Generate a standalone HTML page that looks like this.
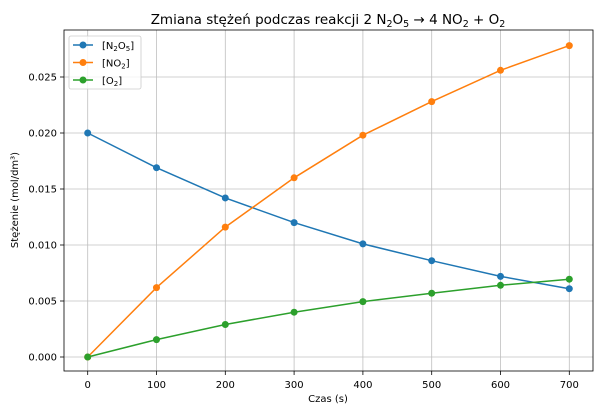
<!DOCTYPE html>
<html><head><meta charset="utf-8"><style>body{margin:0;background:#fff}svg{display:block}</style></head><body>
<svg width="605" height="416" xmlns="http://www.w3.org/2000/svg" font-family="DejaVu Sans, Liberation Sans, sans-serif">
<rect width="605" height="416" fill="#fff"/>
<text x="328" y="24" font-size="13.5" text-anchor="middle">Zmiana stężeń podczas reakcji 2 N<tspan font-size="9.5" dy="3">2</tspan><tspan dy="-3">O</tspan><tspan font-size="9.5" dy="3">5</tspan><tspan dy="-3"> → 4 NO</tspan><tspan font-size="9.5" dy="3">2</tspan><tspan dy="-3"> + O</tspan><tspan font-size="9.5" dy="3">2</tspan></text>
<g stroke="#b0b0b0" stroke-width="0.8" opacity="0.8">
<line x1="87.7" y1="30" x2="87.7" y2="371"/><line x1="156.5" y1="30" x2="156.5" y2="371"/><line x1="225.3" y1="30" x2="225.3" y2="371"/><line x1="294.1" y1="30" x2="294.1" y2="371"/><line x1="362.9" y1="30" x2="362.9" y2="371"/><line x1="431.7" y1="30" x2="431.7" y2="371"/><line x1="500.5" y1="30" x2="500.5" y2="371"/><line x1="569.3" y1="30" x2="569.3" y2="371"/>
<line x1="64" y1="357" x2="593" y2="357"/><line x1="64" y1="301" x2="593" y2="301"/><line x1="64" y1="245" x2="593" y2="245"/><line x1="64" y1="189" x2="593" y2="189"/><line x1="64" y1="133" x2="593" y2="133"/><line x1="64" y1="77" x2="593" y2="77"/>
</g>
<rect x="64" y="30" width="529" height="341" fill="none" stroke="#000" stroke-width="0.8"/>
<g stroke="#000" stroke-width="0.8">
<line x1="87.7" y1="371" x2="87.7" y2="375"/><line x1="156.5" y1="371" x2="156.5" y2="375"/><line x1="225.3" y1="371" x2="225.3" y2="375"/><line x1="294.1" y1="371" x2="294.1" y2="375"/><line x1="362.9" y1="371" x2="362.9" y2="375"/><line x1="431.7" y1="371" x2="431.7" y2="375"/><line x1="500.5" y1="371" x2="500.5" y2="375"/><line x1="569.3" y1="371" x2="569.3" y2="375"/>
<line x1="60" y1="357" x2="64" y2="357"/><line x1="60" y1="301" x2="64" y2="301"/><line x1="60" y1="245" x2="64" y2="245"/><line x1="60" y1="189" x2="64" y2="189"/><line x1="60" y1="133" x2="64" y2="133"/><line x1="60" y1="77" x2="64" y2="77"/>
</g>
<g font-size="10" text-anchor="middle">
<text x="87.7" y="388">0</text><text x="156.5" y="388">100</text><text x="225.3" y="388">200</text><text x="294.1" y="388">300</text><text x="362.9" y="388">400</text><text x="431.7" y="388">500</text><text x="500.5" y="388">600</text><text x="569.3" y="388">700</text>
<text x="328" y="402">Czas (s)</text>
</g>
<g font-size="10" text-anchor="end">
<text x="57" y="360.5">0.000</text><text x="57" y="304.5">0.005</text><text x="57" y="248.5">0.010</text><text x="57" y="192.5">0.015</text><text x="57" y="136.5">0.020</text><text x="57" y="80.5">0.025</text>
</g>
<text transform="translate(18,200) rotate(-90)" font-size="10" text-anchor="middle">Stężenie (mol/dm³)</text>
<g stroke-width="1.5" fill="none">
<polyline stroke="#1f77b4" points="87.7,133 156.5,167.7 225.3,197.96 294.1,222.6 362.9,243.9 431.7,260.7 500.5,276.4 569.3,288.7"/>
<polyline stroke="#ff7f0e" points="87.7,357 156.5,287.6 225.3,227.1 294.1,177.8 362.9,135.2 431.7,101.6 500.5,70.3 569.3,45.6"/>
<polyline stroke="#2ca02c" points="87.7,357 156.5,339.6 225.3,324.5 294.1,312.2 362.9,301.6 431.7,293.2 500.5,285.3 569.3,279.2"/>
</g>
<g fill="#1f77b4"><circle cx="87.7" cy="133" r="3.5"/><circle cx="156.5" cy="167.7" r="3.5"/><circle cx="225.3" cy="197.96" r="3.5"/><circle cx="294.1" cy="222.6" r="3.5"/><circle cx="362.9" cy="243.9" r="3.5"/><circle cx="431.7" cy="260.7" r="3.5"/><circle cx="500.5" cy="276.4" r="3.5"/><circle cx="569.3" cy="288.7" r="3.5"/></g>
<g fill="#ff7f0e"><circle cx="87.7" cy="357" r="3.5"/><circle cx="156.5" cy="287.6" r="3.5"/><circle cx="225.3" cy="227.1" r="3.5"/><circle cx="294.1" cy="177.8" r="3.5"/><circle cx="362.9" cy="135.2" r="3.5"/><circle cx="431.7" cy="101.6" r="3.5"/><circle cx="500.5" cy="70.3" r="3.5"/><circle cx="569.3" cy="45.6" r="3.5"/></g>
<g fill="#2ca02c"><circle cx="87.7" cy="357" r="3.5"/><circle cx="156.5" cy="339.6" r="3.5"/><circle cx="225.3" cy="324.5" r="3.5"/><circle cx="294.1" cy="312.2" r="3.5"/><circle cx="362.9" cy="301.6" r="3.5"/><circle cx="431.7" cy="293.2" r="3.5"/><circle cx="500.5" cy="285.3" r="3.5"/><circle cx="569.3" cy="279.2" r="3.5"/></g>
<rect x="69" y="36" width="72" height="53" rx="2" fill="#fff" fill-opacity="0.8" stroke="#ccc" stroke-width="0.8"/>
<g stroke-width="1.5"><line x1="73" y1="45" x2="93" y2="45" stroke="#1f77b4"/><line x1="73" y1="62.5" x2="93" y2="62.5" stroke="#ff7f0e"/><line x1="73" y1="80" x2="93" y2="80" stroke="#2ca02c"/></g>
<circle cx="83" cy="45" r="3.5" fill="#1f77b4"/><circle cx="83" cy="62.5" r="3.5" fill="#ff7f0e"/><circle cx="83" cy="80" r="3.5" fill="#2ca02c"/>
<g font-size="10">
<text x="102" y="49">[N<tspan font-size="7" dy="2">2</tspan><tspan dy="-2">O</tspan><tspan font-size="7" dy="2">5</tspan><tspan dy="-2">]</tspan></text>
<text x="102" y="66.5">[NO<tspan font-size="7" dy="2">2</tspan><tspan dy="-2">]</tspan></text>
<text x="102" y="84">[O<tspan font-size="7" dy="2">2</tspan><tspan dy="-2">]</tspan></text>
</g>
</svg>
</body></html>
